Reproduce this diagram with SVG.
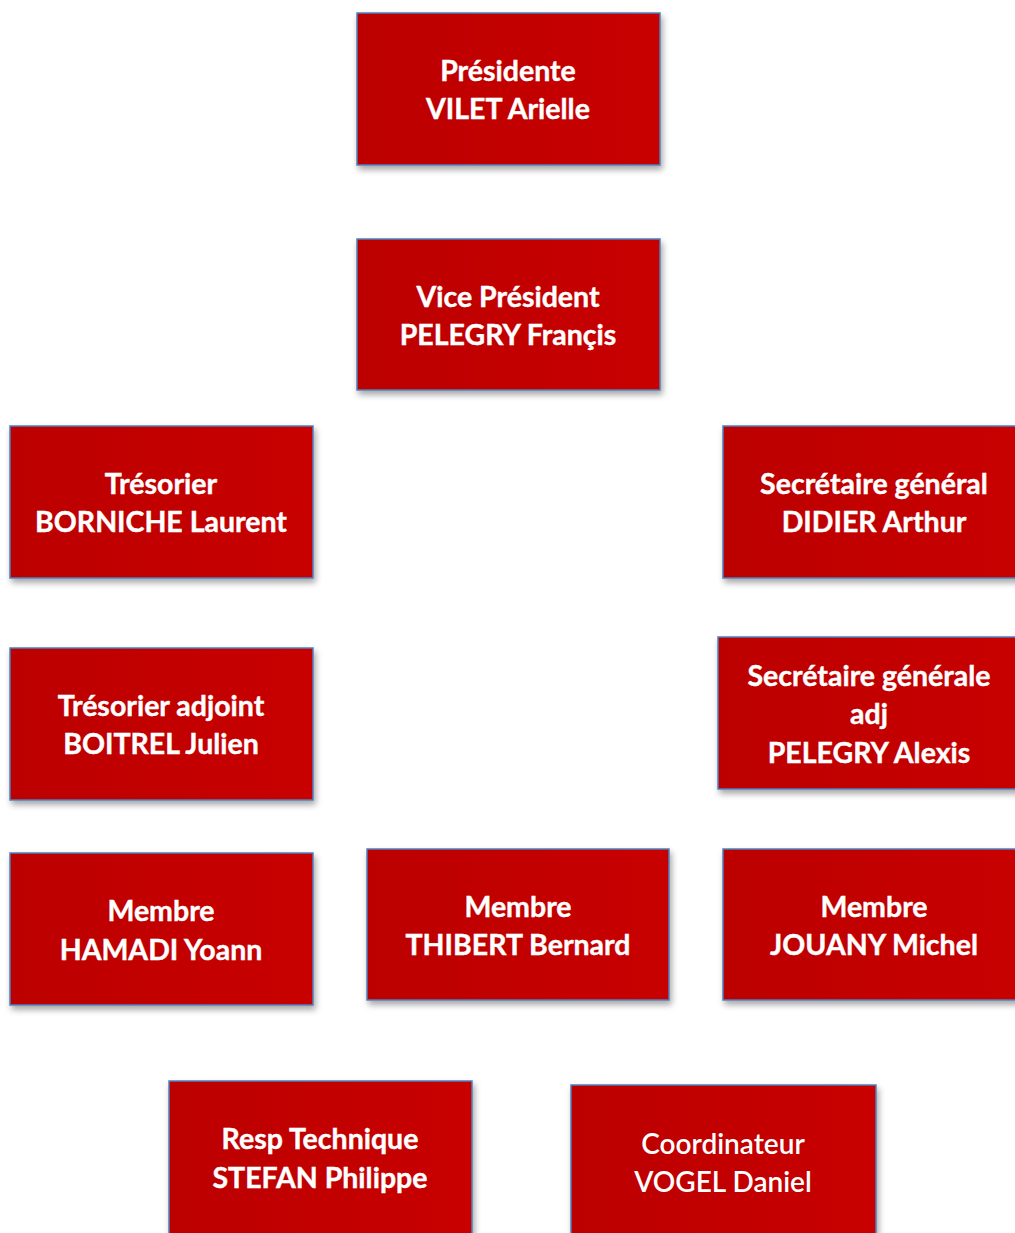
<svg xmlns="http://www.w3.org/2000/svg" width="1015" height="1233" viewBox="0 0 1015 1233">
<defs>
<linearGradient id="fillg" x1="0" y1="0" x2="1" y2="0">
<stop offset="0" stop-color="#BC0000"/>
<stop offset="1" stop-color="#C80000"/>
</linearGradient>
<filter id="sh" x="-10%" y="-10%" width="125%" height="130%">
<feDropShadow dx="2" dy="4" stdDeviation="3" flood-color="#000" flood-opacity="0.35"/>
</filter>
</defs>
<style>
.box{fill:url(#fillg);stroke:#4F81BD;stroke-width:1.5;filter:url(#sh)}
.t{font-family:Lato,"Open Sans","Liberation Sans",sans-serif;font-weight:bold;font-size:28.5px;fill:#fff;text-anchor:middle;stroke:#fff;stroke-width:0.4}
.r{font-weight:600;stroke-width:0;font-size:28px}
</style>
<rect width="1015" height="1233" fill="#fff"/>
<g id="connectors"/>
<g id="presidente">
<rect class="box" x="357" y="13" width="303" height="152"/>
<text class="t" x="508" y="81">Présidente</text>
<text class="t" x="508" y="119">VILET Arielle</text>
</g>
<g id="vice-president">
<rect class="box" x="357" y="239" width="303" height="151"/>
<text class="t" x="508" y="307">Vice Président</text>
<text class="t" x="508" y="345">PELEGRY Françis</text>
</g>
<g id="tresorier">
<rect class="box" x="10" y="426" width="303" height="152"/>
<text class="t" x="161" y="494">Trésorier</text>
<text class="t" x="161" y="532">BORNICHE Laurent</text>
</g>
<g id="secretaire-general">
<rect class="box" x="723" y="426" width="303" height="152"/>
<text class="t" x="874" y="494">Secrétaire général</text>
<text class="t" x="874" y="532">DIDIER Arthur</text>
</g>
<g id="tresorier-adjoint">
<rect class="box" x="10" y="648" width="303" height="152"/>
<text class="t" x="161" y="716">Trésorier adjoint</text>
<text class="t" x="161" y="754">BOITREL Julien</text>
</g>
<g id="secretaire-generale-adj">
<rect class="box" x="718" y="637" width="303" height="152"/>
<text class="t" x="869" y="686">Secrétaire générale</text>
<text class="t" x="869" y="724">adj</text>
<text class="t" x="869" y="763">PELEGRY Alexis</text>
</g>
<g id="membre-hamadi">
<rect class="box" x="10" y="853" width="303" height="152"/>
<text class="t" x="161" y="921">Membre</text>
<text class="t" x="161" y="960">HAMADI Yoann</text>
</g>
<g id="membre-thibert">
<rect class="box" x="367" y="849" width="302" height="151"/>
<text class="t" x="518" y="917">Membre</text>
<text class="t" x="518" y="955">THIBERT Bernard</text>
</g>
<g id="membre-jouany">
<rect class="box" x="723" y="849" width="303" height="151"/>
<text class="t" x="874" y="917">Membre</text>
<text class="t" x="874" y="955">JOUANY Michel</text>
</g>
<g id="resp-technique">
<rect class="box" x="169" y="1081" width="303" height="160"/>
<text class="t" x="320" y="1149">Resp Technique</text>
<text class="t" x="320" y="1188">STEFAN Philippe</text>
</g>
<g id="coordinateur">
<rect class="box" x="571" y="1085" width="305" height="160"/>
<text class="t r" x="723" y="1154">Coordinateur</text>
<text class="t r" x="723" y="1192">VOGEL Daniel</text>
</g>
</svg>
